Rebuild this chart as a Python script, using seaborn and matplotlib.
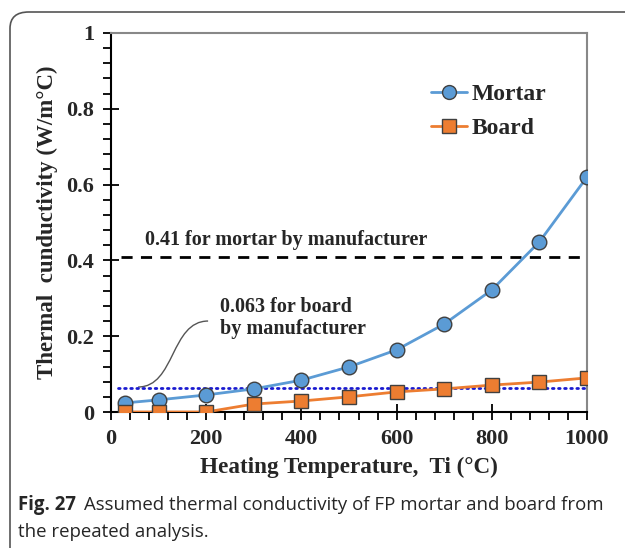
import numpy as np
import pandas as pd
import matplotlib
matplotlib.use("Agg")
import matplotlib.pyplot as plt
import seaborn as sns
from matplotlib.patches import FancyBboxPatch, PathPatch
from matplotlib.path import Path
from matplotlib.lines import Line2D
from matplotlib.ticker import MultipleLocator

# ---- data ----
temps = [30, 100, 200, 300, 400, 500, 600, 700, 800, 900, 1000]
mortar = [0.024, 0.032, 0.045, 0.061, 0.084, 0.119, 0.164, 0.232, 0.322, 0.449, 0.62]
board = [0.0, 0.0, 0.0, 0.021, 0.029, 0.040, 0.053, 0.061, 0.071, 0.079, 0.090]
series_names = ["Mortar", "Board"]
mortar_ref = 0.41
board_ref = 0.063
x_ticks = [0, 200, 400, 600, 800, 1000]
y_ticks = [0, 0.2, 0.4, 0.6, 0.8, 1]
y_tick_labels = ["0", "0.2", "0.4", "0.6", "0.8", "1"]

df = pd.DataFrame({
    "T": temps + temps,
    "k": mortar + board,
    "Material": [series_names[0]] * len(temps) + [series_names[1]] * len(temps),
})

sns.set_theme(style="white")
plt.rcParams["font.family"] = ["Liberation Serif", "DejaVu Serif"]

colors = {"Mortar": "#5B9BD5", "Board": "#ED7D31"}

fig = plt.figure(figsize=(6.25, 5.48), dpi=100)
ax = fig.add_axes([111 / 625, 1 - 412 / 548, (587 - 111) / 625, (412 - 33) / 548])

sns.lineplot(data=df, x="T", y="k", hue="Material", style="Material",
             markers={"Mortar": "o", "Board": "s"}, dashes=False,
             palette=colors, ax=ax, linewidth=2, markersize=10.5,
             markeredgecolor="#404040", markeredgewidth=1, legend=False, zorder=3)

# reference lines
ax.plot([20, 995], [mortar_ref, mortar_ref], color="black", lw=2,
        linestyle=(0, (4, 3)), zorder=2)
ax.plot([15, 1000], [board_ref, board_ref], color="#1a1aD0", lw=2,
        linestyle=(0, (0.6, 1.6)), dash_capstyle="round", zorder=2)

ax.text(71, 0.454, "0.41 for mortar by manufacturer", fontsize=14.5,
        fontweight="bold", va="center", ha="left")
ax.text(229, 0.248, "0.063 for board\nby manufacturer", fontsize=14.5,
        fontweight="bold", va="center", ha="left", linespacing=1.15)

# S-shaped leader curve
verts = [(57, 0.066), (135, 0.066), (125, 0.240), (204, 0.240)]
codes = [Path.MOVETO, Path.CURVE4, Path.CURVE4, Path.CURVE4]
ax.add_patch(PathPatch(Path(verts, codes), facecolor="none",
                       edgecolor="#555555", lw=1))

ax.set_xlim(0, 1000)
ax.set_ylim(0, 1)
ax.set_xticks(x_ticks)
ax.set_yticks(y_ticks)
ax.set_yticklabels(y_tick_labels)
ax.xaxis.set_minor_locator(MultipleLocator(40))
ax.yaxis.set_minor_locator(MultipleLocator(0.04))
ax.tick_params(which="major", direction="inout", length=12, width=1.3,
               labelsize=16, color="black", pad=6)
ax.tick_params(which="minor", direction="out", length=6, width=1.3, color="black")
ax.tick_params(axis="both", which="both", bottom=True, left=True, top=False, right=False)
for lbl in ax.get_xticklabels() + ax.get_yticklabels():
    lbl.set_fontweight("bold")

for s in ["left", "bottom"]:
    ax.spines[s].set_color("black")
    ax.spines[s].set_linewidth(1.5)
for s in ["top", "right"]:
    ax.spines[s].set_color("#888888")
    ax.spines[s].set_linewidth(1.5)

ax.set_xlabel("Heating Temperature,  Ti (\u00b0C)", fontsize=16.7, fontweight="bold", labelpad=6)
ax.set_ylabel("Thermal  cunductivity (W/m\u00b0C)", fontsize=16.5, fontweight="bold", labelpad=6)
ax.grid(False)

handles = [Line2D([], [], color=colors[n], marker=m, markersize=10, lw=2,
                  markeredgecolor="#404040", markeredgewidth=1)
           for n, m in zip(series_names, ["o", "s"])]
leg = ax.legend(handles, series_names, loc="upper left",
                bbox_to_anchor=((422 - 111) / 476, (412 - 74) / 379),
                frameon=False, prop={"weight": "bold", "size": 17},
                handlelength=1.5, handletextpad=0.2, labelspacing=0.55, borderaxespad=0)

# figure border
fig.patches.append(FancyBboxPatch((10 / 625, 1 - 620 / 548), 700 / 625, 608 / 548,
                                  boxstyle="round,pad=0,rounding_size=0.03",
                                  transform=fig.transFigure, facecolor="none",
                                  edgecolor="#555555", lw=1.2, clip_on=False))

# caption
cap_font = ["Open Sans", "DejaVu Sans"]
fig.text(18 / 625, 1 - 505 / 548, "Fig. 27", fontsize=13.4, fontweight="bold",
         family=cap_font, va="center", ha="left")
fig.text(84 / 625, 1 - 505 / 548, "Assumed thermal conductivity of FP mortar and board from",
         fontsize=13.4, family=cap_font, va="center", ha="left")
fig.text(18 / 625, 1 - 532 / 548, "the repeated analysis.", fontsize=13.4,
         family=cap_font, va="center", ha="left")

fig.savefig("out.png", dpi=100)
